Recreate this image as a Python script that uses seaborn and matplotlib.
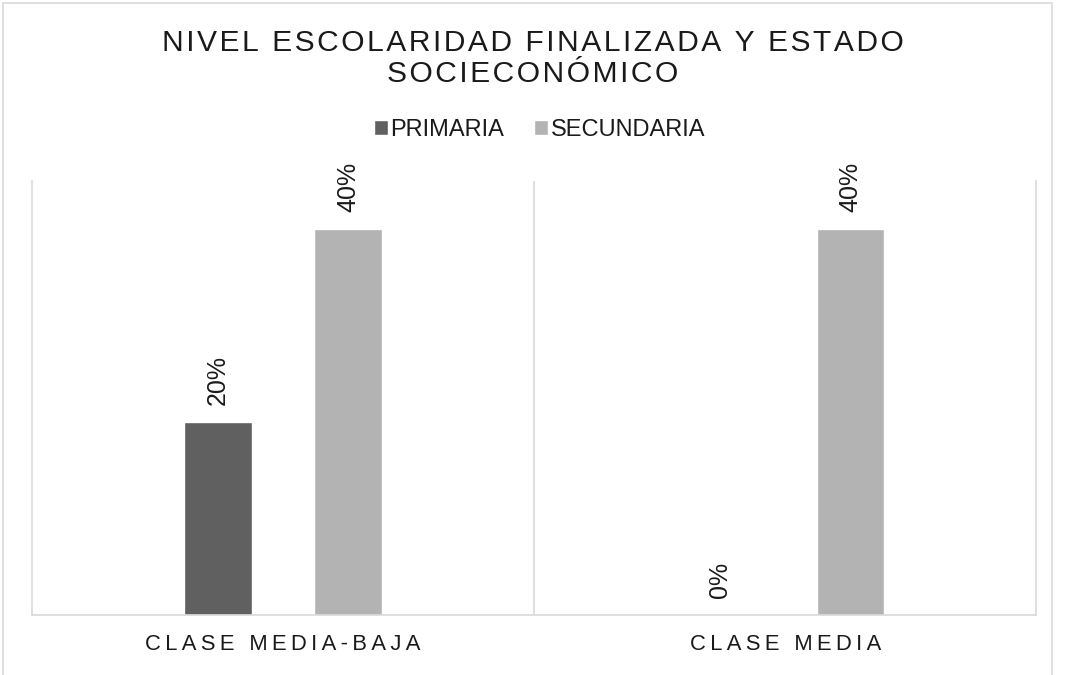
import pandas as pd
import seaborn as sns
import matplotlib.pyplot as plt
from matplotlib.patches import Rectangle

# Datos del gráfico
clases = ['CLASE MEDIA-BAJA', 'CLASE MEDIA']
niveles = ['PRIMARIA', 'SECUNDARIA']
primaria = [0.20, 0.00]
secundaria = [0.40, 0.40]

df = pd.DataFrame({
    'clase': clases * 2,
    'nivel': [niveles[0]] * len(clases) + [niveles[1]] * len(clases),
    'valor': primaria + secundaria,
})

sns.set_style('white')
plt.rcParams['font.family'] = ['Liberation Sans', 'DejaVu Sans']


def espaciado(texto, sep='\u200a'):
    # Simula el espaciado entre letras de Excel
    return sep.join(texto)


fig = plt.figure(figsize=(10.65, 6.75), dpi=100)
ax = fig.add_axes([0.030, 0.089, 0.943, 0.643])

sns.barplot(
    data=df, x='clase', y='valor', hue='nivel',
    palette=['#606060', '#b3b3b3'],
    width=0.52, gap=0.48, ax=ax, legend=True,
)

ax.set_ylim(0, 0.45)
ax.set_yticks([])
ax.set_xlabel('')
ax.set_ylabel('')
ax.set_xticks(range(len(clases)))
ax.set_xticklabels([espaciado(c, '\u2009') for c in clases], fontsize=15.8, color='#1a1a1a')
ax.tick_params(axis='x', length=0, pad=14)

for lado in ['left', 'right', 'bottom']:
    ax.spines[lado].set_color('#d9d9d9')
    ax.spines[lado].set_linewidth(1.2)
ax.spines['top'].set_visible(False)
ax.axvline(0.5, color='#d9d9d9', linewidth=1.2)

# Etiquetas de datos rotadas
for cont in ax.containers:
    etiquetas = ['{:.0%}'.format(v) for v in cont.datavalues]
    ax.bar_label(cont, labels=etiquetas, rotation=90, padding=12,
                 fontsize=18, color='#1a1a1a')

# Leyenda
handles, labels = ax.get_legend_handles_labels()
ax.legend(handles, labels, loc='center', bbox_to_anchor=(0.5066, 0.807),
          bbox_transform=fig.transFigure, ncol=2, frameon=False,
          fontsize=17, handlelength=0.6, handleheight=0.6,
          handletextpad=0.12, columnspacing=1.25, labelcolor='#1a1a1a')

# Título
fig.text(0.5, 0.936, espaciado('NIVEL ESCOLARIDAD FINALIZADA Y ESTADO'),
         ha='center', va='center', fontsize=21.6, color='#1a1a1a')
fig.text(0.5, 0.890, espaciado('SOCIECONÓMICO'),
         ha='center', va='center', fontsize=21.6, color='#1a1a1a')

# Borde del gráfico
fig.patches.append(Rectangle((3 / 1065, -0.01), 1049 / 1065, 1.0 - 3 / 675 + 0.01,
                             transform=fig.transFigure, fill=False,
                             edgecolor='#d9d9d9', linewidth=1.2))

fig.savefig('out.png', dpi=100)
